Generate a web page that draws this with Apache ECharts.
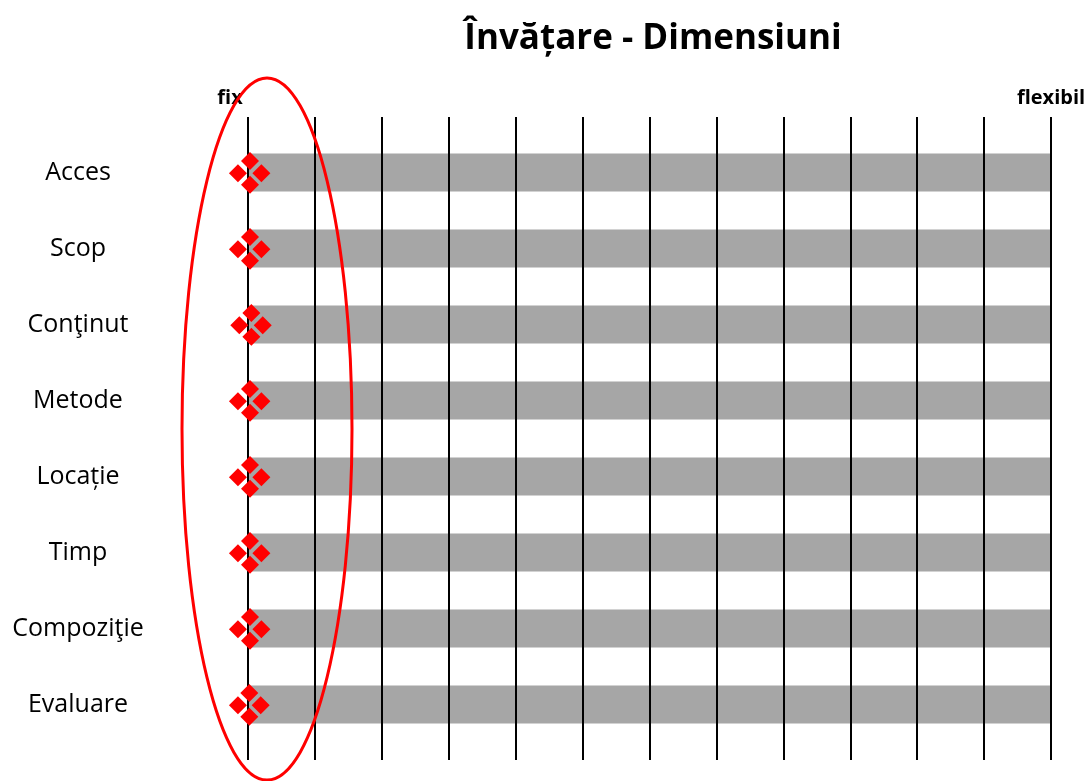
<!DOCTYPE html>
<html><head><meta charset="utf-8">
<script src="https://cdn.jsdelivr.net/npm/echarts@6/dist/echarts.min.js"></script>
<style>html,body{margin:0;padding:0;background:#fff}#c{width:1091px;height:781px}</style>
</head><body><div id="c"></div>
<script>
const categories = ['Acces','Scop','Conţinut','Metode','Locație','Timp','Compoziţie','Evaluare'];
const scaleLabels = ['fix','flexibil'];
const barStart = [0,0,0,0,0,0,0,0];
const barEnd = [12,12,12,12,12,12,12,12];
// four marker groups (x value per category) and their small vertical offsets
const markLeft   = [-0.15,-0.15,-0.13,-0.15,-0.15,-0.15,-0.15,-0.15];
const markTop    = [0.03,0.03,0.05,0.03,0.03,0.03,0.03,0.02];
const markRight  = [0.2,0.2,0.22,0.2,0.2,0.2,0.2,0.19];
const markBottom = [0.03,0.03,0.05,0.03,0.03,0.03,0.03,0.02];
const offLeft = 0.01, offTop = -0.15, offRight = 0.01, offBottom = 0.16;

const FONT = '"Open Sans"';
const chart = echarts.init(document.getElementById('c'), null, {renderer:'canvas'});
function pts(xs, off){ return xs.map((x,i)=>[x, i+1+off]); }
const markerSeries = [[markLeft,offLeft],[markTop,offTop],[markRight,offRight],[markBottom,offBottom]].map(([xs,off])=>({
  type:'scatter', data: pts(xs,off), symbol:'diamond', symbolSize:18, clip:false,
  itemStyle:{color:'#ff0000', opacity:1}, z:10, silent:true
}));
chart.setOption({
  animation:false,
  title:{text:'Învățare - Dimensiuni', left:648, top:17, textAlign:'center',
    textStyle:{fontFamily:FONT, fontSize:35, fontWeight:'bold', color:'#000'}},
  grid:{left:248, right:40, top:117, bottom:21},
  xAxis:{type:'value', position:'top', min:0, max:12, interval:1, z:5,
    axisLine:{show:false}, axisTick:{show:false},
    splitLine:{show:true, lineStyle:{color:'#000', width:2}},
    axisLabel:{margin:9, fontFamily:FONT, fontSize:20, fontWeight:'bold', color:'#000',
      formatter:v=> v===0 ? '{a|'+scaleLabels[0]+'}' : (v===12 ? scaleLabels[1] : ''),
      rich:{a:{fontFamily:FONT, fontSize:20, fontWeight:'bold', color:'#000', padding:[0,36,0,0]}}}},
  yAxis:{type:'value', inverse:true, min:0.27, max:8.73,
    axisLine:{show:false}, axisTick:{show:false}, splitLine:{show:false},
    axisLabel:{customValues:[1,2,3,4,5,6,7,8], formatter:v=>categories[Math.round(v)-1]||'',
      align:'center', margin:170, padding:[4,0,0,0], fontFamily:FONT, fontSize:25, color:'#000'}},
  series:[{
    type:'custom', z:2, silent:true,
    data: categories.map((c,i)=>[barStart[i], barEnd[i], i+1]),
    renderItem:(params, api)=>{
      const p0 = api.coord([api.value(0), api.value(2)-0.25]);
      const p1 = api.coord([api.value(1), api.value(2)+0.25]);
      return {type:'rect', shape:{x:p0[0], y:p0[1], width:p1[0]-p0[0], height:p1[1]-p0[1]},
        style:{fill:'#a6a6a6'}};
    }
  }, ...markerSeries],
  graphic:[{type:'ellipse', shape:{cx:267, cy:429, rx:85, ry:351}, z:20, silent:true,
    style:{fill:'none', stroke:'#ff0000', lineWidth:3}}]
});
</script></body></html>
